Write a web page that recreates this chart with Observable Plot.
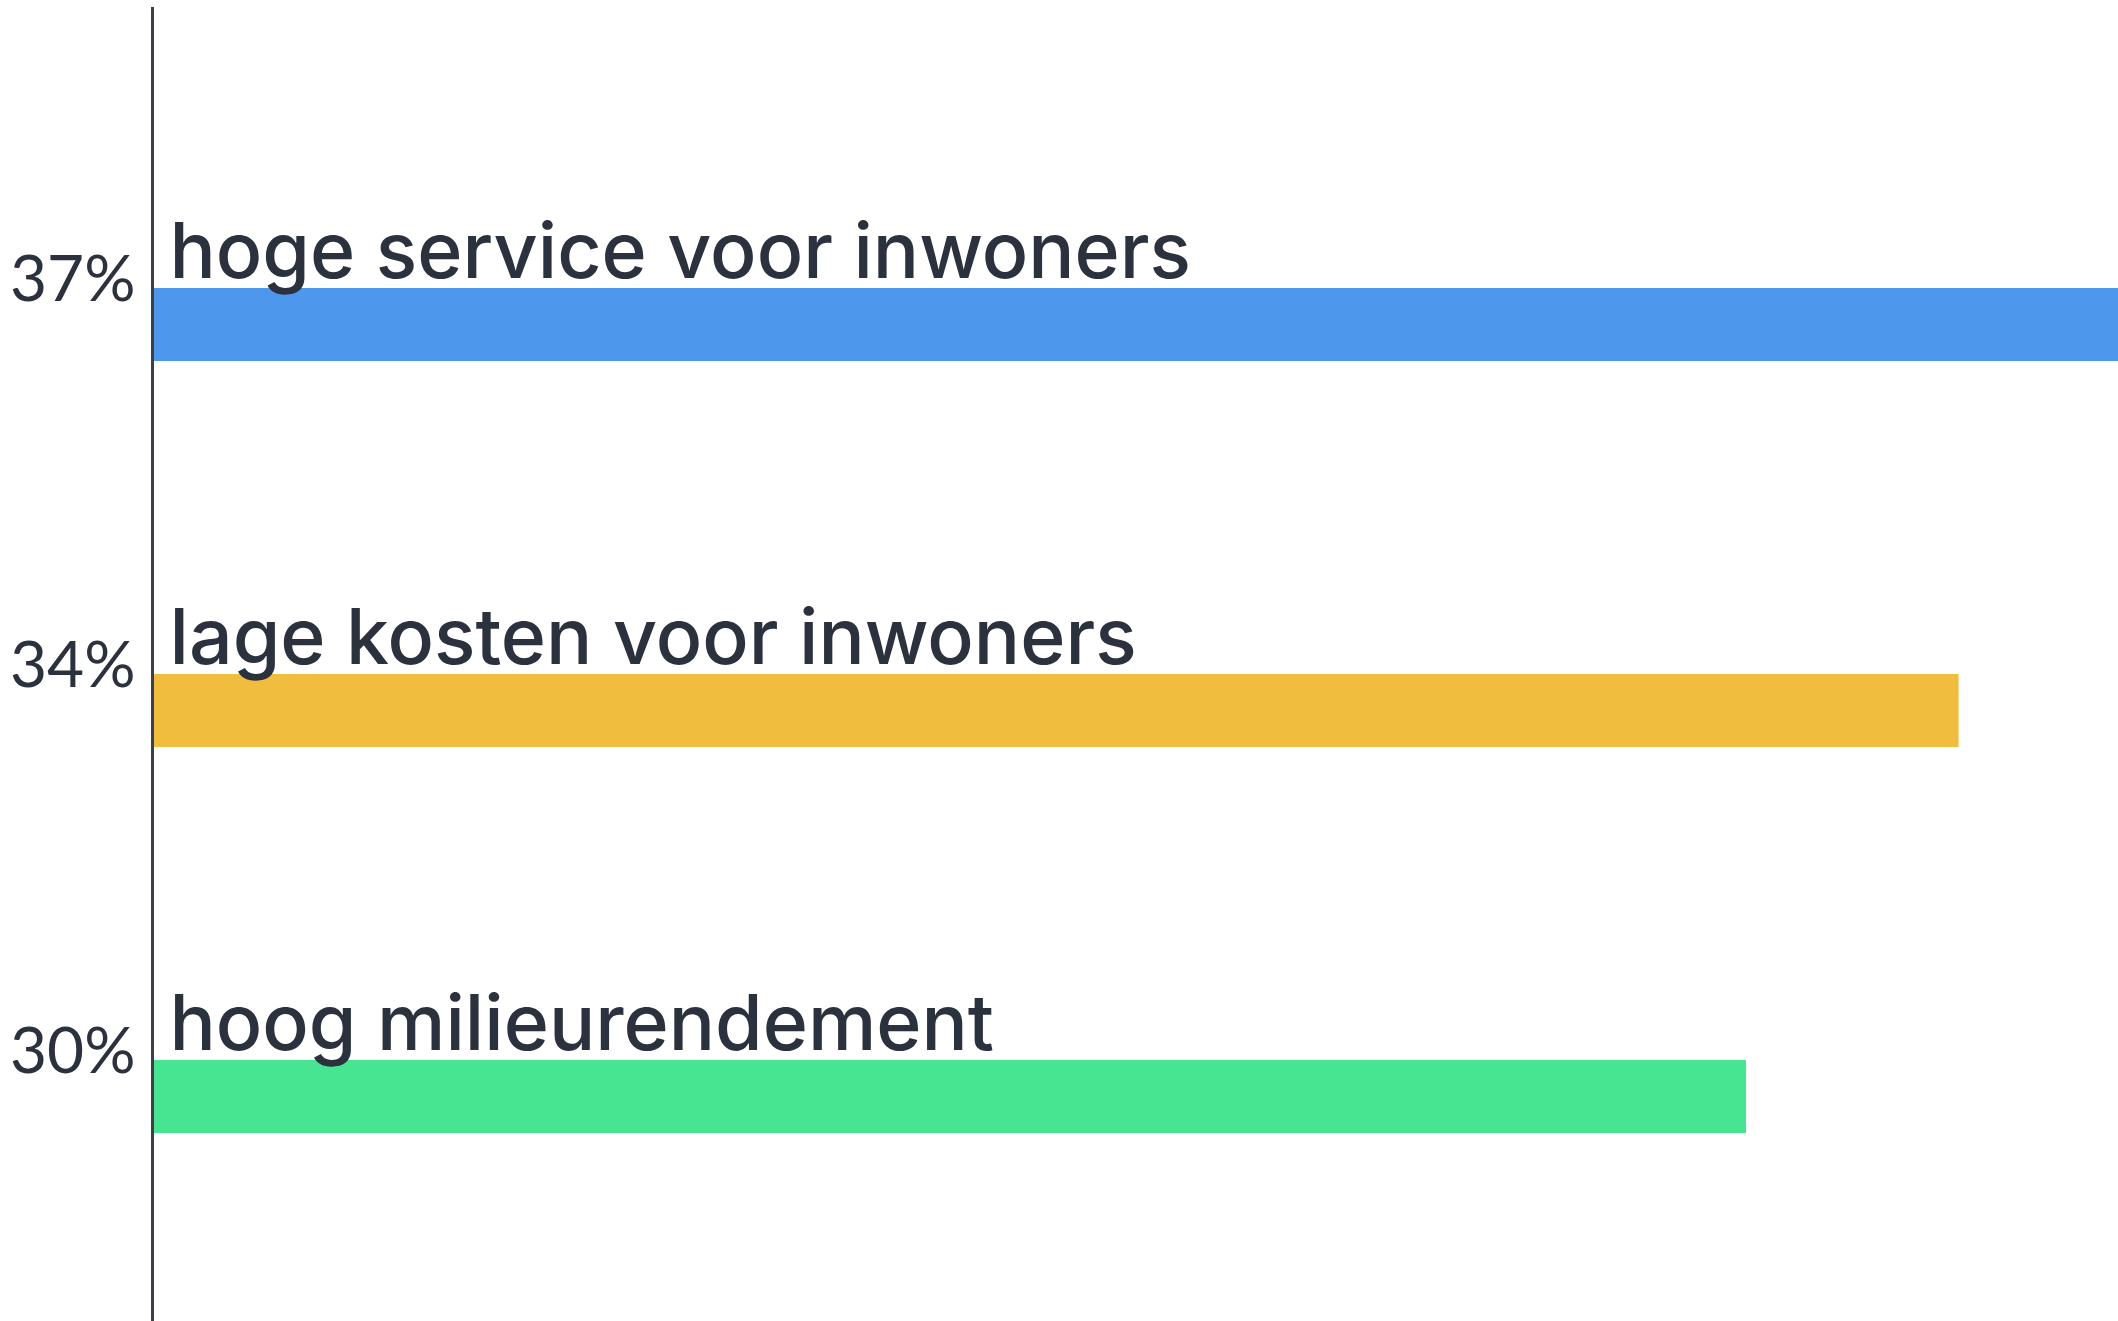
<!DOCTYPE html>
<html>
<head>
<meta charset="utf-8">
<script src="https://cdn.jsdelivr.net/npm/d3@7"></script>
<script src="https://cdn.jsdelivr.net/npm/@observablehq/plot@0.6"></script>
<style>
  html, body { margin: 0; padding: 0; background: #ffffff; }
  #chart svg { display: block; }
</style>
</head>
<body>
<div id="chart"></div>
<script>
const categories = ["hoge service voor inwoners", "lage kosten voor inwoners", "hoog milieurendement"];
const values = [37, 34, 30];
const tickLabels = ["37%", "34%", "30%"];
const colors = ["#4d97ec", "#f0bd3f", "#47e591"];

const data = categories.map((c, i) => ({category: c, value: values[i], tick: tickLabels[i], color: colors[i]}));

const textColor = "#2c323d";

const chart = Plot.plot({
  width: 2118,
  height: 1321,
  marginLeft: 152,
  marginRight: 0,
  marginTop: 7,
  marginBottom: 0,
  style: {background: "#ffffff", fontFamily: "Lato, 'Noto Sans', sans-serif"},
  x: {domain: [0, 37], axis: null},
  y: {domain: categories, range: [131, 1289], padding: 0, axis: null},
  marks: [
    Plot.barX(data, {x: "value", y: "category", fill: "color", insetTop: 157, insetBottom: 156}),
    Plot.ruleX([0], {stroke: "#3a3f4a", strokeWidth: 3}),
    Plot.text(data, {x: 0, y: "category", text: "category", textAnchor: "start", lineAnchor: "bottom", dx: 17, dy: -47, fontSize: 77, fontWeight: 500, fontFamily: "Inter, Lato, sans-serif", fill: textColor}),
    Plot.text(data, {x: 0, y: "category", text: "tick", textAnchor: "end", lineAnchor: "bottom", dx: -17, dy: -24, fontSize: 64, fill: textColor})
  ]
});
document.getElementById("chart").appendChild(chart);
</script>
</body>
</html>
